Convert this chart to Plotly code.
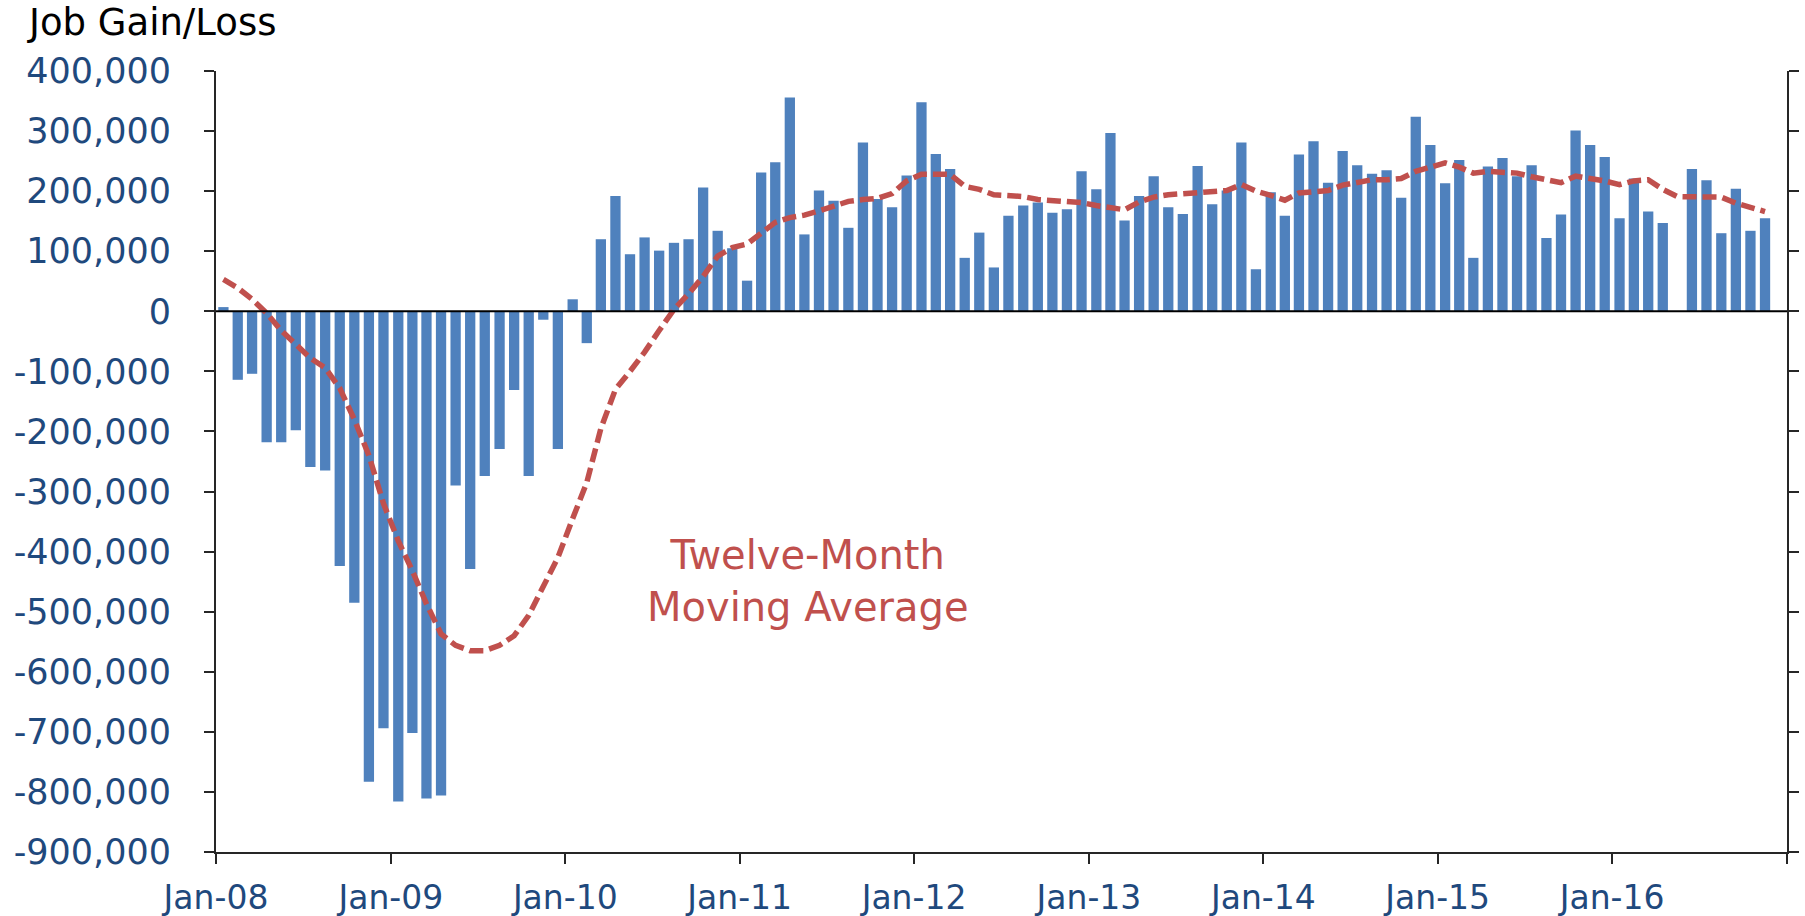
import plotly.graph_objects as go

# ---- categories: monthly, Jan-2008 .. Nov-2016 ----
months = [f"{y}-{m:02d}-01" for y in range(2008, 2017) for m in range(1, 13)][:107]

# ---- monthly job gain/loss ----
job_change = [
    7000, -114000, -104000, -218000, -218000, -198000, -259000, -265000, -424000, -485000, -783000, -694000,   # 2008
    -816000, -702000, -811000, -806000, -290000, -429000, -274000, -229000, -131000, -274000, -14000, -229000,  # 2009
    20000, -53000, 120000, 192000, 95000, 123000, 101000, 114000, 120000, 206000, 134000, 105000,             # 2010
    51000, 231000, 248000, 356000, 128000, 201000, 184000, 139000, 281000, 187000, 173000, 226000,            # 2011
    348000, 262000, 237000, 89000, 131000, 73000, 159000, 176000, 181000, 164000, 170000, 233000,             # 2012
    203000, 297000, 151000, 192000, 225000, 173000, 162000, 242000, 178000, 201000, 281000, 70000,            # 2013
    198000, 159000, 261000, 283000, 214000, 267000, 243000, 229000, 235000, 189000, 324000, 277000,           # 2014
    213000, 252000, 89000, 241000, 255000, 225000, 243000, 122000, 161000, 301000, 277000, 257000,            # 2015
    155000, 221000, 166000, 147000, None, 237000, 218000, 130000, 204000, 134000, 155000,                     # 2016
]

# ---- twelve-month moving average ----
moving_avg = [
    53000, 39000, 20000, -3000, -32000, -55000, -78000, -94000, -128000, -180000, -240000, -320000,
    -382000, -432000, -487000, -537000, -556000, -565000, -565000, -556000, -540000, -506000, -460000, -410000,
    -345000, -285000, -195000, -130000, -100000, -68000, -32000, 3000, 29000, 58000, 92000, 106000,
    112000, 130000, 148000, 156000, 160000, 167000, 176000, 183000, 186000, 188000, 196000, 217000,
    228000, 229000, 228000, 208000, 203000, 194000, 193000, 191000, 186000, 185000, 184000, 181000,
    176000, 172000, 169000, 182000, 190000, 194000, 196000, 199000, 200000, 201000, 211000, 200000,
    193000, 185000, 197000, 200000, 201000, 210000, 215000, 219000, 219000, 221000, 233000, 241000,
    247000, 240000, 230000, 233000, 232000, 230000, 224000, 219000, 214000, 225000, 222000, 217000,
    211000, 217000, 219000, 203000, 191000, 190000, 190000, 190000, 180000, 172000, 166000,
]

# ---- axis ticks ----
x_tickvals = [f"{y}-01-01" for y in range(2008, 2018)]
x_ticktext = ["Jan-08", "Jan-09", "Jan-10", "Jan-11", "Jan-12", "Jan-13", "Jan-14", "Jan-15", "Jan-16", ""]
y_tickvals = [400000, 300000, 200000, 100000, 0, -100000, -200000, -300000, -400000,
              -500000, -600000, -700000, -800000, -900000]
y_ticktext = ["400,000", "300,000", "200,000", "100,000", "0", "-100,000", "-200,000", "-300,000",
              "-400,000", "-500,000", "-600,000", "-700,000", "-800,000", "-900,000"]

BAR_COLOR = "#4F81BD"
LINE_COLOR = "#C0504D"
LABEL_COLOR = "#1F497D"
AXIS_COLOR = "#262626"
FONT = "DejaVu Sans"

fig = go.Figure()
fig.add_trace(go.Bar(
    x=months, y=job_change,
    xperiod="M1", xperiodalignment="middle",
    marker=dict(color=BAR_COLOR, line=dict(width=0)),
    name="Job Gain/Loss",
))
fig.add_trace(go.Scatter(
    x=months, y=moving_avg,
    xperiod="M1", xperiodalignment="middle",
    mode="lines",
    line=dict(color=LINE_COLOR, width=5.5, dash="14px,6px"),
    name="Twelve-Month Moving Average",
))

# zero reference line drawn above the bars
fig.add_shape(type="line", xref="paper", yref="y", x0=0, x1=1, y0=0, y1=0,
              line=dict(color="#000000", width=2), layer="above")

fig.add_annotation(
    text="Twelve-Month<br>Moving Average",
    xref="paper", yref="paper", x=0.3767, y=0.347,
    xanchor="center", yanchor="middle", showarrow=False,
    font=dict(family=FONT, size=40, color=LINE_COLOR),
)

fig.update_layout(
    width=1805, height=916,
    margin=dict(l=216, r=18, t=71, b=64, autoexpand=False),
    paper_bgcolor="white", plot_bgcolor="white",
    showlegend=False, bargap=0.27,
    font=dict(family=FONT),
    title=dict(
        text="Job Gain/Loss", xref="container", yref="container",
        x=29 / 1805, xanchor="left", y=1 - 22 / 916, yanchor="middle",
        font=dict(family=FONT, size=37, color="#000000"),
    ),
    xaxis=dict(
        type="date", range=["2008-01-01", "2017-01-01"],
        tickmode="array", tickvals=x_tickvals, ticktext=x_ticktext,
        ticks="outside", ticklen=10, tickwidth=2, tickcolor=AXIS_COLOR,
        showline=True, linecolor=AXIS_COLOR, linewidth=2,
        showgrid=False, zeroline=False,
        tickfont=dict(family=FONT, size=33, color=LABEL_COLOR),
        ticklabelstandoff=5, automargin=False,
    ),
    yaxis=dict(
        range=[-900000, 400000],
        tickmode="array", tickvals=y_tickvals, ticktext=y_ticktext,
        ticks="outside", ticklen=10, tickwidth=2, tickcolor=AXIS_COLOR,
        showline=True, linecolor=AXIS_COLOR, linewidth=2, mirror="ticks",
        showgrid=False, zeroline=False,
        tickfont=dict(family=FONT, size=35, color=LABEL_COLOR),
        ticklabelstandoff=26, automargin=False,
    ),
)

fig.write_html(
    "out.html",
    config={"displayModeBar": False},
    post_script="document.body.style.margin='0';document.body.style.overflow='hidden';",
)
